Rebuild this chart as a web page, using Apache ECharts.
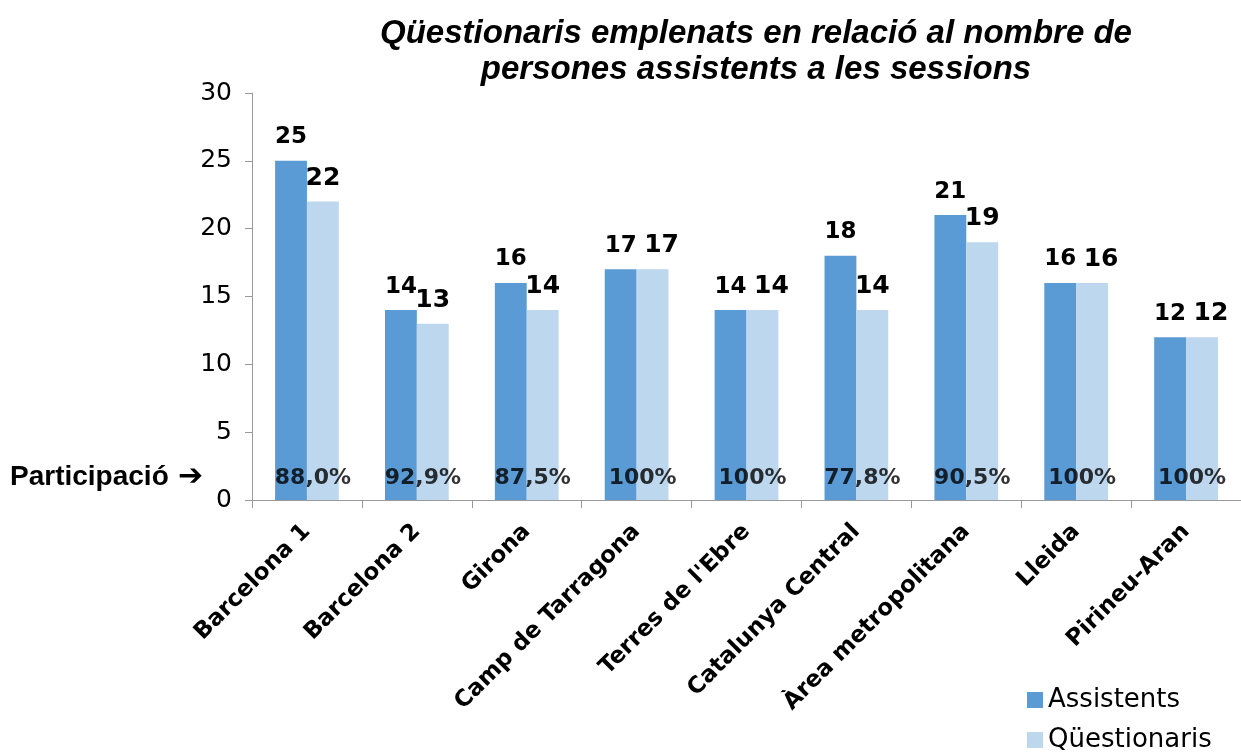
<!DOCTYPE html>
<html lang="ca">
<head>
    <meta charset="UTF-8">
    <title>Qüestionaris emplenats</title>
    <script src="https://cdn.jsdelivr.net/npm/echarts@6/dist/echarts.min.js"></script>
    <style>
        html, body { margin: 0; padding: 0; background: #fff; }
    </style>
</head>
<body>
<div id="main" style="width:1241px;height:753px;"></div>
<script type="text/javascript">
    // dades del gràfic
    var categories = ['Barcelona 1', 'Barcelona 2', 'Girona', 'Camp de Tarragona', "Terres de l'Ebre",
        'Catalunya Central', 'Àrea metropolitana', 'Lleida', 'Pirineu-Aran'];
    var assistents = [25, 14, 16, 17, 14, 18, 21, 16, 12];
    var questionaris = [22, 13, 14, 17, 14, 14, 19, 16, 12];
    var participacio = ['88,0%', '92,9%', '87,5%', '100%', '100%', '77,8%', '90,5%', '100%', '100%'];
    var yTicks = [0, 5, 10, 15, 20, 25, 30];

    var myChart = echarts.init(document.getElementById('main'));

    // quan els dos valors coincideixen, l'etiqueta clara es desplaça una mica
    var questData = questionaris.map(function (v, i) {
        var d = {value: v};
        if (v === assistents[i]) d.label = {offset: [9, 0]};
        return d;
    });

    var option = {
        animation: false,
        title: {
            text: 'Qüestionaris emplenats en relació al nombre de\npersones assistents a les sessions',
            left: 751,
            top: 11,
            textAlign: 'center',
            textStyle: {
                fontFamily: 'Liberation Sans',
                fontStyle: 'italic',
                fontWeight: 'bold',
                fontSize: 33,
                lineHeight: 36,
                color: '#000'
            }
        },
        legend: [
            {
                data: ['Assistents'],
                left: 1022, top: 682,
                itemWidth: 16, itemHeight: 16, icon: 'rect',
                textStyle: {fontFamily: 'DejaVu Sans', fontSize: 26, color: '#000'}
            },
            {
                data: ['Qüestionaris'],
                left: 1022, top: 722,
                itemWidth: 16, itemHeight: 16, icon: 'rect',
                textStyle: {fontFamily: 'DejaVu Sans', fontSize: 26, color: '#000'}
            }
        ],
        grid: {left: 252, top: 93, width: 1001, bottom: 253, containLabel: false},
        xAxis: {
            type: 'category',
            data: categories,
            axisLine: {lineStyle: {color: '#999'}},
            axisTick: {show: true, length: 8, lineStyle: {color: '#999'}},
            axisLabel: {
                interval: 0,
                rotate: 45,
                margin: 28,
                fontFamily: 'DejaVu Sans',
                fontWeight: 'bold',
                fontSize: 23,
                color: '#000'
            }
        },
        yAxis: {
            type: 'value',
            min: yTicks[0],
            max: yTicks[yTicks.length - 1],
            interval: 5,
            axisLine: {show: true, lineStyle: {color: '#999'}},
            axisTick: {show: true, length: 7, lineStyle: {color: '#999'}},
            splitLine: {show: false},
            axisLabel: {fontFamily: 'DejaVu Sans', fontSize: 25, color: '#000', margin: 20}
        },
        graphic: [{
            type: 'text',
            left: 10,
            top: 463,
            style: {
                text: 'Participació',
                fontFamily: 'Liberation Sans',
                fontWeight: 'bold',
                fontSize: 28,
                fill: '#000'
            }
        }, {
            type: 'text',
            left: 178,
            top: 462,
            style: {
                text: '➔',
                fontFamily: 'DejaVu Sans',
                fontWeight: 'bold',
                fontSize: 30,
                fill: '#000'
            }
        }],
        series: [
            {
                name: 'Assistents',
                type: 'bar',
                data: assistents,
                barGap: '0%',
                barCategoryGap: '42%',
                itemStyle: {color: '#5B9BD5'},
                label: {
                    show: true, position: 'top', distance: 12,
                    fontFamily: 'DejaVu Sans', fontWeight: 'bold', fontSize: 23, color: '#000'
                }
            },
            {
                name: 'Qüestionaris',
                type: 'bar',
                data: questData,
                itemStyle: {color: '#BDD7EE'},
                label: {
                    show: true, position: 'top', distance: 11,
                    fontFamily: 'DejaVu Sans', fontWeight: 'bold', fontSize: 25, color: '#000'
                }
            },
            {
                name: 'Participació',
                type: 'scatter',
                data: participacio.map(function (p) { return {value: 0, pct: p}; }),
                symbolSize: 0,
                silent: true,
                z: 10,
                label: {
                    show: true,
                    position: 'top',
                    distance: 11,
                    offset: [6, 0],
                    formatter: function (params) { return params.data.pct; },
                    fontFamily: 'DejaVu Sans',
                    fontWeight: 'bold',
                    fontSize: 22,
                    color: '#000'
                }
            }
        ]
    };

    myChart.setOption(option);
</script>
</body>
</html>
